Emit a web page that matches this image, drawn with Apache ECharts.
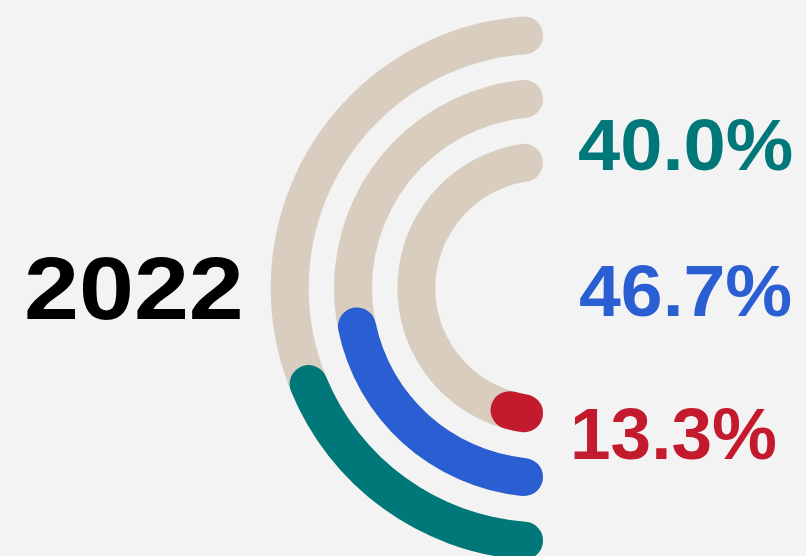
<!DOCTYPE html>
<html>
<head>
<meta charset="utf-8">
<script src="https://cdn.jsdelivr.net/npm/echarts@6/dist/echarts.min.js"></script>
<style>
html,body{margin:0;padding:0;background:#f3f3f3;}
#chart{width:806px;height:556px;}
</style>
</head>
<body>
<div id="chart"></div>
<script>
// Data
var categories = ['inner', 'middle', 'outer'];
var seriesValues = [13.3, 46.7, 40.0];
var seriesColors = ['#c41a2e', '#2a5fd3', '#00787a'];
var yearLabel = '2022';
var fullValue = 100;

var chart = echarts.init(document.getElementById('chart'), null, {renderer: 'canvas'});

var bgData = categories.map(function () { return fullValue; });
var fgData = seriesValues.map(function (v, i) {
  return { value: v, itemStyle: { color: seriesColors[i] } };
});

// label layout only
var labelPos = [
  { x: 570, y: 439, sx: 1.0 },
  { x: 579, y: 296, sx: 1.03 },
  { x: 578, y: 150, sx: 1.04 }
];
var FONT = '"Liberation Sans", Arial, sans-serif';

var graphics = [{
  type: 'text', x: 24, y: 294, scaleX: 1.11, scaleY: 1,
  style: {
    text: yearLabel, x: 0, y: 0,
    fill: '#000', font: 'bold 89px ' + FONT,
    textAlign: 'left', textVerticalAlign: 'middle'
  }
}];
seriesValues.forEach(function (v, i) {
  graphics.push({
    type: 'text', x: labelPos[i].x, y: labelPos[i].y, scaleX: labelPos[i].sx, scaleY: 1,
    style: {
      text: v.toFixed(1) + '%', x: 0, y: 0,
      fill: seriesColors[i], font: 'bold 73px ' + FONT,
      textAlign: 'left', textVerticalAlign: 'middle'
    }
  });
});

var polarCfg = { center: [543, 288], radius: [95, 285] };
var angleCfg = {
  type: 'value', min: 0, max: 2 * fullValue, startAngle: 270, clockwise: true, show: false
};
var radiusCfg = { type: 'category', data: categories, show: false };

chart.setOption({
  backgroundColor: '#f3f3f3',
  animation: false,
  polar: [polarCfg, polarCfg],
  angleAxis: [Object.assign({ polarIndex: 0 }, angleCfg), Object.assign({ polarIndex: 1 }, angleCfg)],
  radiusAxis: [Object.assign({ polarIndex: 0 }, radiusCfg), Object.assign({ polarIndex: 1 }, radiusCfg)],
  series: [{
    type: 'bar', coordinateSystem: 'polar', polarIndex: 0, data: bgData,
    barWidth: 38,
    itemStyle: { color: '#d9cdbf', borderRadius: 19 }, silent: true, z: 2
  }, {
    type: 'bar', coordinateSystem: 'polar', polarIndex: 1, data: fgData,
    barWidth: 38, itemStyle: { borderRadius: 19 }, z: 3
  }],
  graphic: graphics
});
</script>
</body>
</html>
